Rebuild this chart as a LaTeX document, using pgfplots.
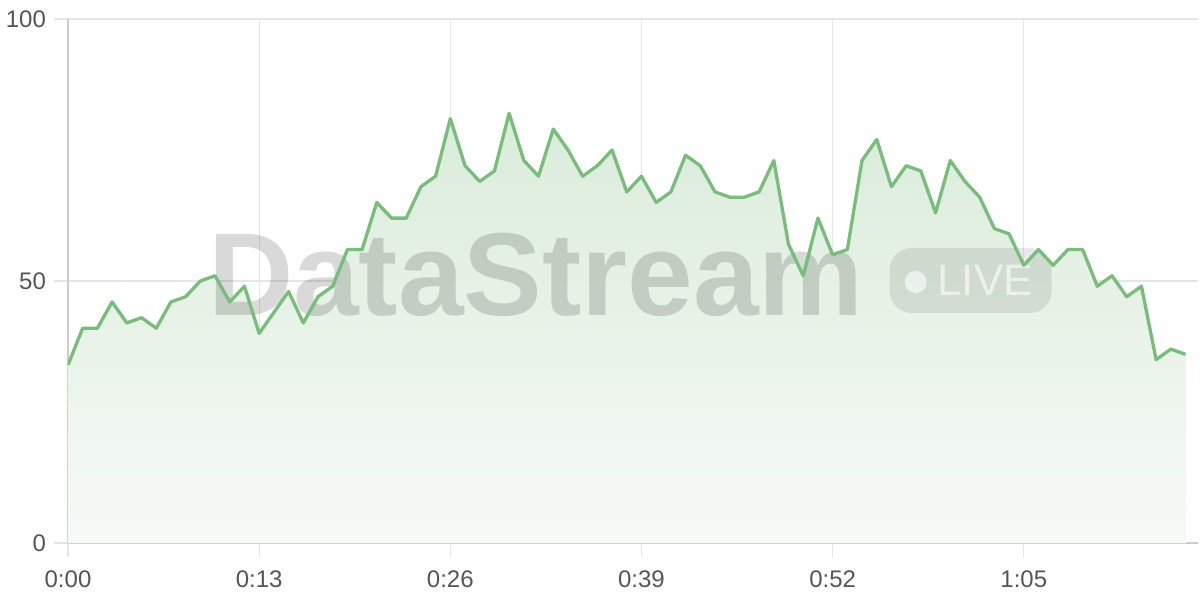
\documentclass[border=0pt]{standalone}
\usepackage{pgfplots}
\pgfplotsset{compat=1.18}
\usepackage{fontspec}
\setmainfont{Liberation Sans}
\definecolor{linegreen}{RGB}{120,189,122}
\definecolor{filltop}{RGB}{218,236,218}
\definecolor{fillbot}{RGB}{247,250,247}
\definecolor{gridgray}{RGB}{230,230,230}
\definecolor{axisgray}{RGB}{204,204,204}
\definecolor{labgray}{RGB}{85,85,85}
\begin{document}
\begin{tikzpicture}
\path[use as bounding box] (0,0) rectangle (600pt,300pt);
\begin{axis}[
  at={(34pt,28.5pt)}, anchor=south west,
  scale only axis, width=565pt, height=262pt,
  xmin=0, xmax=76.85, ymin=0, ymax=100,
  axis x line*=bottom, axis y line*=left,
  axis line style={axisgray, line width=0.9pt},
  xtick={0,13,26,39,52,65},
  xticklabels={0:00,0:13,0:26,0:39,0:52,1:05},
  ytick={0,50,100},
  grid=major,
  major grid style={gridgray, line width=0.6pt},
  tick align=outside,
  major tick length=7pt,
  tick style={gridgray, line width=0.6pt},
  tick label style={font=\fontsize{12}{14}\selectfont, text=labgray},
  /pgf/number format/assume math mode=true,
  xticklabel style={yshift=-3.5pt},
  yticklabel style={xshift=-0.5pt},
  clip mode=individual,
]
\addplot[draw=none, top color=filltop, bottom color=fillbot] table {
x y
0 34
1 41
2 41
3 46
4 42
5 43
6 41
7 46
8 47
9 50
10 51
11 46
12 49
13 40
14 44
15 48
16 42
17 47
18 49
19 56
20 56
21 65
22 62
23 62
24 68
25 70
26 81
27 72
28 69
29 71
30 82
31 73
32 70
33 79
34 75
35 70
36 72
37 75
38 67
39 70
40 65
41 67
42 74
43 72
44 67
45 66
46 66
47 67
48 73
49 57
50 51
51 62
52 55
53 56
54 73
55 77
56 68
57 72
58 71
59 63
60 73
61 69
62 66
63 60
64 59
65 53
66 56
67 53
68 56
69 56
70 49
71 51
72 47
73 49
74 35
75 37
76 36
} \closedcycle;
\node[anchor=base west, inner sep=0pt, text=black, text opacity=0.15,
  font=\fontsize{59}{60}\selectfont\bfseries] at (axis cs:9.5,43.5) {DataStream};
\fill[black, fill opacity=0.09, rounded corners=11pt] (axis cs:55.88,43.9) rectangle (axis cs:66.89,56.3);
\fill[white, fill opacity=0.6] (axis cs:57.65,49.8) circle (5.5pt);
\node[anchor=base west, inner sep=0pt, text=white, text opacity=0.6,
  font=\fontsize{22}{24}\selectfont] at (axis cs:59.1,47.3) {LIVE};
\addplot[linegreen, line width=1.65pt, line join=round] table {
x y
0 34
1 41
2 41
3 46
4 42
5 43
6 41
7 46
8 47
9 50
10 51
11 46
12 49
13 40
14 44
15 48
16 42
17 47
18 49
19 56
20 56
21 65
22 62
23 62
24 68
25 70
26 81
27 72
28 69
29 71
30 82
31 73
32 70
33 79
34 75
35 70
36 72
37 75
38 67
39 70
40 65
41 67
42 74
43 72
44 67
45 66
46 66
47 67
48 73
49 57
50 51
51 62
52 55
53 56
54 73
55 77
56 68
57 72
58 71
59 63
60 73
61 69
62 66
63 60
64 59
65 53
66 56
67 53
68 56
69 56
70 49
71 51
72 47
73 49
74 35
75 37
76 36
};
\end{axis}
\end{tikzpicture}
\end{document}
